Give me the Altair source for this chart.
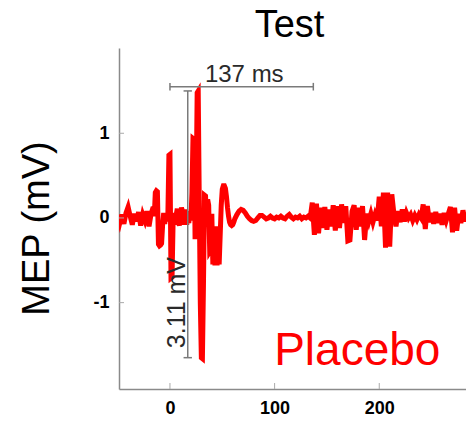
import altair as alt
import pandas as pd

# ---- trace data (ms, mV) ----
pre_t = [-50, -48, -46, -44, -42, -40, -38, -36, -34, -32, -30, -28, -26, -24, -22, -20, -18, -16]
pre_v = [0.03, -0.06, 0.04, -0.07, 0.06, 0.13, 0.02, -0.08, 0.05, -0.04, 0.07, -0.09, 0.04, -0.03, 0.08, -0.10, 0.05, 0.13]

mep_t = list(range(-15, 48))
mep_v = [0.02, 0.30, 0.32, 0.31, -0.31, -0.33, -0.32, -0.30, -0.08, 0.06,
         -0.07, 0.05, -0.04, 0.03, 0.74, 0.75, -0.71, -0.70, -0.04, 0.06,
         -0.08, 0.04, 0.11, -0.05, -0.09, 0.05, 0.12, 0.08, -0.08, 0.03,
         0.10, -0.08, 0.02, -0.06, 0.08, -0.03, 0.30, 0.94, 0.93, -0.25,
         0.30, 1.48, 1.50, 0.20, -1.00, -1.65, -1.66, -0.80, 0.27, 0.26,
         -0.10, 0.22, 0.15, -0.40, -0.38, 0.05, -0.55, -0.10, -0.56, -0.20,
         -0.56, -0.10, -0.55]

tail_t = [48, 49, 50, 51, 52, 53, 54, 55, 56, 57, 58, 59, 60, 61, 62,
          64, 66, 68, 70, 72, 74, 76, 78, 80, 82, 84, 86, 88, 90, 92, 94, 96, 98,
          100, 102, 104, 106, 108, 110, 112, 114, 116, 118, 120, 122, 124, 126, 128, 130, 132]
tail_v = [-0.20, 0.15, 0.34, 0.38, 0.38, 0.35, 0.25, 0.12, 0.02, -0.05, -0.08, -0.09, -0.08, -0.05, -0.01,
          0.04, 0.08, 0.10, 0.09, 0.06, 0.02, -0.01, -0.03, -0.04, -0.03, 0.00, 0.03, 0.03, 0.01, -0.01, 0.00, 0.02, 0.00,
          -0.01, 0.01, 0.00, 0.02, 0.00, -0.01, 0.02, 0.04, 0.01, -0.01, 0.01, 0.00, 0.02, -0.01, 0.01, 0.00, 0.02]

late_t = list(range(134, 294, 2))
late_v = [0.00, 0.18, -0.20, 0.17, -0.18, 0.12, -0.12, 0.13, -0.14, 0.10,
          -0.10, 0.15, -0.15, 0.14, -0.12, 0.16, -0.06, 0.14, -0.27, -0.26,
          0.08, 0.15, -0.14, 0.12, -0.10, 0.14, -0.26, 0.05, -0.04, 0.05,
          -0.05, 0.04, -0.03, 0.25, -0.10, 0.30, -0.35, 0.30, -0.34, 0.28,
          0.05, -0.10, 0.08, -0.05, 0.10, -0.04, 0.06, 0.00, 0.04, -0.03,
          0.03, -0.02, 0.04, 0.00, 0.16, -0.13, 0.14, -0.05, 0.06, -0.07,
          0.07, -0.06, 0.05, -0.08, 0.06, -0.03, 0.05, 0.13, -0.17, 0.12,
          -0.15, 0.05, -0.06, 0.09, -0.04, 0.06, -0.05, 0.08, -0.03, 0.05]

x_ticks = [0, 100, 200]
y_ticks = [-1, 0, 1]

trace = pd.DataFrame({
    "t": pre_t + mep_t + tail_t + late_t,
    "v": pre_v + mep_v + tail_v + late_v,
})
trace["i"] = range(len(trace))

W, H = 347, 341
xscale = alt.Scale(domain=[-48.7, 282.9], nice=False, zero=False)
yscale = alt.Scale(domain=[-2.02, 2.007], nice=False, zero=False)

xaxis = alt.Axis(values=x_ticks, title=None)
yaxis = alt.Axis(values=y_ticks, title="MEP (mV)")

line = alt.Chart(trace).mark_line(color="#ff0000", strokeWidth=5, clip=True).encode(
    x=alt.X("t:Q", scale=xscale, axis=xaxis),
    y=alt.Y("v:Q", scale=yscale, axis=yaxis),
    order="i:Q",
)

ytick_rules = alt.Chart(pd.DataFrame({"v": y_ticks})).mark_rule(color="#aaaaaa", strokeWidth=1).encode(
    y=alt.Y("v:Q", scale=yscale, axis=yaxis), x=alt.value(0), x2=alt.value(5))
xtick_rules = alt.Chart(pd.DataFrame({"t": x_ticks})).mark_rule(color="#aaaaaa", strokeWidth=1).encode(
    x=alt.X("t:Q", scale=xscale, axis=xaxis), y=alt.value(H - 6), y2=alt.value(H))

# annotation brackets
brackets = pd.DataFrame({
    "t":  [0, 0, 137, 17, 13, 13],
    "t2": [137, 0, 137, 17, 21, 21],
    "v":  [1.55, 1.505, 1.505, 1.50, 1.50, -1.65],
    "v2": [1.55, 1.595, 1.595, -1.65, 1.50, -1.65],
})
bracket_rules = alt.Chart(brackets).mark_rule(color="#7a7a7a", strokeWidth=1.5).encode(
    x=alt.X("t:Q", scale=xscale, axis=xaxis), x2="t2:Q",
    y=alt.Y("v:Q", scale=yscale, axis=yaxis), y2="v2:Q")

ms_text = alt.Chart(pd.DataFrame({"t": [71], "v": [1.60], "s": ["137 ms"]})).mark_text(
    font="Liberation Sans", fontSize=24, color="#2a2a2a", align="center", baseline="alphabetic").encode(
    x=alt.X("t:Q", scale=xscale, axis=xaxis), y=alt.Y("v:Q", scale=yscale, axis=yaxis), text="s:N")

mv_text = alt.Chart(pd.DataFrame({"t": [14.3], "v": [-1.0], "s": ["3.11 mV"]})).mark_text(
    font="Liberation Sans", fontSize=25, color="#2a2a2a", align="center", baseline="alphabetic",
    angle=270).encode(
    x=alt.X("t:Q", scale=xscale, axis=xaxis), y=alt.Y("v:Q", scale=yscale, axis=yaxis), text="s:N")

placebo = alt.Chart(pd.DataFrame({"t": [179], "v": [-1.735], "s": ["Placebo"]})).mark_text(
    font="Liberation Sans", fontSize=46, color="#ff0000", align="center", baseline="alphabetic").encode(
    x=alt.X("t:Q", scale=xscale, axis=xaxis), y=alt.Y("v:Q", scale=yscale, axis=yaxis), text="s:N")

chart = alt.layer(
    line, ytick_rules, xtick_rules, bracket_rules, ms_text, mv_text, placebo
).properties(
    width=W, height=H,
    title=alt.TitleParams(text="Test", font="Liberation Sans", fontSize=38, fontWeight="normal",
                          color="black", offset=3, anchor="middle", dx=-3),
    autosize=alt.AutoSizeParams(type="none"),
    padding={"left": 111, "top": 40, "right": 0, "bottom": 28},
).configure_view(strokeWidth=0).configure_axis(
    ticks=False, grid=False, domainColor="#8a8a8a", domainWidth=1.5,
    labelFont="Liberation Sans", labelFontWeight="bold", labelFontSize=18,
    labelColor="black", labelPadding=10, labelExpr="datum.value + ''",
    titleFont="Liberation Sans", titleFontSize=38, titleFontWeight="normal", titleColor="black",
).configure_axisY(
    titleAngle=270, titleAlign="center", titleBaseline="alphabetic", titleX=-71, titleY=180,
)

chart.save("out.html", embed_options={"renderer": "svg", "actions": False})
